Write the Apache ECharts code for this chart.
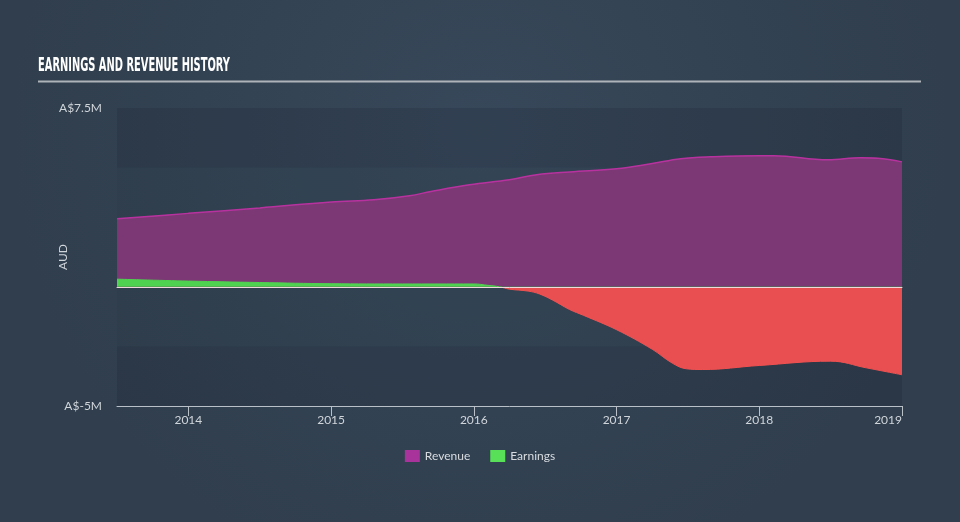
<!DOCTYPE html>
<html><head><meta charset="utf-8">
<script src="https://cdn.jsdelivr.net/npm/echarts@6/dist/echarts.min.js"></script>
<style>html,body{margin:0;padding:0;background:#344354;}#c{width:960px;height:522px;}</style>
</head><body><div id="c"></div>
<script>
const revenueYears = [2013.5,2014.0,2014.5,2015.0,2015.3,2015.55,2015.7,2015.97,2016.25,2016.44,2016.67,2017.0,2017.24,2017.45,2017.66,2018.0,2018.1,2018.48,2018.71,2018.83,2019.0];
const revenueValues = [2.85,3.08,3.31,3.56,3.65,3.82,4.0,4.28,4.49,4.7,4.82,4.95,5.16,5.37,5.45,5.5,5.5,5.33,5.41,5.39,5.24];
const earningsYears = [2013.5,2014.0,2014.5,2015.0,2015.5,2016.0,2016.1,2016.18,2016.25,2016.38,2016.46,2016.55,2016.67,2016.77,2017.0,2017.25,2017.39,2017.49,2017.6,2018.0,2018.5,2018.75,2019.0];
const earningsValues = [0.32,0.24,0.18,0.13,0.12,0.12,0.06,0.0,-0.1,-0.18,-0.3,-0.55,-0.95,-1.2,-1.8,-2.62,-3.2,-3.44,-3.47,-3.3,-3.12,-3.4,-3.69];
const xTickYears = [2014,2015,2016,2017,2018,2019];
const yTickLabels = ['A$-5M','A$7.5M'];
const titleText = 'EARNINGS AND REVENUE HISTORY';

const Y_MIN = -5, Y_MAX = 7.5;
const GRID = {left:117, right:58, top:108, bottom:116};
const H = 522;

const titleFont = 'bold 19px "Liberation Sans Narrow", "DejaVu Sans Condensed", sans-serif';
const mctx = document.createElement('canvas').getContext('2d');
mctx.font = titleFont;
const titleScale = 192 / mctx.measureText(titleText).width;

// sign-split colouring for earnings, from the y-axis range
const zeroOffset = (Y_MAX - 0) / (Y_MAX - Y_MIN);
function signGradient(pos, neg){
  return {type:'linear', global:true, x:0, y:GRID.top, x2:0, y2:H-GRID.bottom,
    colorStops:[{offset:0,color:pos},{offset:zeroOffset,color:pos},{offset:zeroOffset,color:neg},{offset:1,color:neg}]};
}

const chart = echarts.init(document.getElementById('c'), null, {renderer:'canvas'});
const zip = (a,b)=>a.map((v,i)=>[v,b[i]]);
chart.setOption({
  backgroundColor: {type:'radial', x:0.5, y:0.25, r:0.9, colorStops:[{offset:0,color:'#37485a'},{offset:1,color:'#303e4d'}]},
  animation:false,
  graphic:[
    {type:'text', x:38, y:57, scaleX:titleScale, silent:true,
      style:{text:titleText, font:titleFont, fill:'#ffffff', verticalAlign:'top', align:'left'}},
    {type:'line', shape:{x1:38,y1:81.5,x2:921,y2:81.5}, style:{stroke:'#aeb3b9', lineWidth:2}, silent:true}
  ],
  legend:{bottom:55, left:'center', itemWidth:15, itemHeight:12, itemGap:20, icon:'rect',
    textStyle:{color:'#d8dce0', fontFamily:'Lato', fontSize:12},
    data:[{name:'Revenue', itemStyle:{color:'#a8349b'}},{name:'Earnings', itemStyle:{color:'#58e058'}}]},
  grid:Object.assign({containLabel:false}, GRID),
  xAxis:[{type:'value', min:2013.5, max:2019,
    axisLine:{show:true, onZero:false, lineStyle:{color:'#b9c0c8', width:1}},
    axisTick:{show:true, length:10, inside:false, customValues:xTickYears, lineStyle:{color:'#b9c0c8'}},
    axisLabel:{customValues:xTickYears, color:'#d0d5da', fontFamily:'Lato', fontSize:12, margin:8,
      alignMaxLabel:'right', formatter:v=>String(v)},
    splitLine:{show:false}},
   {type:'value', min:2013.5, max:2019, position:'bottom',
    axisLine:{show:true, onZero:true, lineStyle:{color:'#f1d8dc', width:1}},
    axisTick:{show:false}, axisLabel:{show:false}, splitLine:{show:false}, z:10}],
  yAxis:{type:'value', min:Y_MIN, max:Y_MAX, interval:2.5, name:'AUD', nameLocation:'middle', nameGap:48,
    nameMoveOverlap:false,
    nameTextStyle:{color:'#d0d5da', fontFamily:'Lato', fontSize:12},
    axisLine:{show:false}, axisTick:{show:false},
    axisLabel:{color:'#d0d5da', fontFamily:'Lato', fontSize:12, margin:15,
      formatter:v=> v===Y_MIN?yTickLabels[0]:(v===Y_MAX?yTickLabels[1]:'')},
    splitLine:{show:false},
    splitArea:{show:true, areaStyle:{color:['rgba(20,30,42,0.18)','rgba(20,30,42,0.06)']}}},
  series:[
    {name:'Revenue', type:'line', smooth:0.4, symbol:'none', data:zip(revenueYears,revenueValues),
      lineStyle:{color:'#b8329f', width:1.5}, itemStyle:{color:'#a8349b'},
      areaStyle:{color:'#7b3874', opacity:1}, z:2},
    {name:'Earnings', type:'line', smooth:0.4, symbol:'none', data:zip(earningsYears,earningsValues),
      itemStyle:{color:'#58e058'},
      lineStyle:{width:1, color:signGradient('#4fd24f','#f0504f')},
      areaStyle:{opacity:1, color:signGradient('#4fd24f','#e94e50')}, z:3}
  ]
});
</script></body></html>
